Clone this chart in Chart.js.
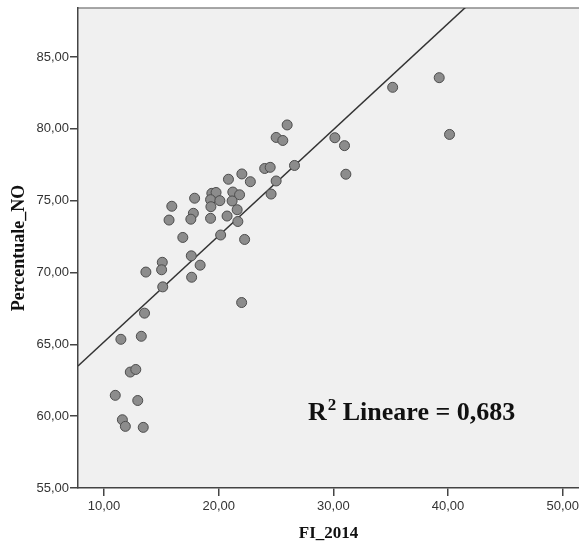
<!DOCTYPE html>
<html>
<head>
<meta charset="utf-8">
<script src="https://cdn.jsdelivr.net/npm/chart.js@4"></script>
<style>
  html, body { margin: 0; padding: 0; background: #fff; }
  #wrap { width: 579px; height: 546px; }
</style>
</head>
<body>
<div id="wrap"><canvas id="scatter"></canvas></div>
<script>
// FI_2014 (x) vs Percentuale_NO (y)
const fiValues = [
  35.17, 39.23, 40.13, 25.97, 25.01, 25.59, 30.13, 30.97, 31.09, 26.61,
  24.01, 24.49, 25.01, 24.57, 22.02, 20.85, 22.76, 19.40, 19.77, 21.23,
  21.82, 19.29, 20.10, 21.17, 17.90, 15.91, 19.32, 21.61, 17.79, 17.57,
  15.67, 19.29, 20.73, 21.67, 16.87, 20.17, 22.26, 17.61, 15.08, 15.02,
  13.65, 18.38, 17.64, 15.12, 22.00, 13.53, 11.47, 13.25, 12.29, 12.77,
  10.98, 12.94, 11.60, 11.86, 13.42
];
const noValues = [
  82.89, 83.56, 79.61, 80.27, 79.40, 79.19, 79.38, 78.83, 76.84, 77.45,
  77.24, 77.32, 76.37, 75.46, 76.86, 76.49, 76.32, 75.51, 75.57, 75.60,
  75.41, 75.07, 75.00, 74.98, 75.17, 74.61, 74.58, 74.37, 74.12, 73.71,
  73.65, 73.77, 73.93, 73.55, 72.44, 72.61, 72.30, 71.16, 70.71, 70.19,
  70.03, 70.51, 69.67, 69.00, 67.91, 67.17, 65.35, 65.56, 63.07, 63.25,
  61.45, 61.09, 59.75, 59.29, 59.22
];

// fit line as drawn in the picture
const fitIntercept = 57.79;
const fitSlope = 0.7385;
const rSquared = "0,683";

const xRange = [7.73, 51.42];
const yRange = [55, 88.41];
const xTicks = [10, 20, 30, 40, 50];
const yTicks = [55, 60, 65, 70, 75, 80, 85];

const points = fiValues.map((x, i) => ({ x, y: noValues[i] }));
const fitLine = xRange.map(x => ({ x, y: fitIntercept + fitSlope * x }));

const fmt = v => v.toFixed(2).replace(".", ",");

const plotFrame = {
  id: "plotFrame",
  beforeDraw(chart) {
    const { ctx, chartArea: a } = chart;
    ctx.save();
    ctx.fillStyle = "#f0f0f0";
    ctx.fillRect(a.left, a.top, a.right - a.left, a.bottom - a.top);
    ctx.strokeStyle = "#8a8a8a";
    ctx.lineWidth = 1.5;
    ctx.beginPath();
    ctx.moveTo(a.left, a.top);
    ctx.lineTo(a.right, a.top);
    ctx.stroke();
    ctx.restore();
  },
  afterDraw(chart) {
    const { ctx, chartArea: a } = chart;
    ctx.save();
    ctx.fillStyle = "#111";
    ctx.textBaseline = "alphabetic";
    let x = a.left + 230;
    const y = a.top + 412;
    ctx.font = "bold 26px 'Liberation Serif', 'DejaVu Serif', serif";
    ctx.fillText("R", x, y);
    x += ctx.measureText("R").width + 1;
    ctx.font = "bold 17px 'Liberation Serif', 'DejaVu Serif', serif";
    ctx.fillText("2", x, y - 10);
    x += ctx.measureText("2").width;
    ctx.font = "bold 26px 'Liberation Serif', 'DejaVu Serif', serif";
    ctx.fillText(" Lineare = " + rSquared, x, y);
    ctx.restore();
  }
};

new Chart(document.getElementById("scatter"), {
  type: "scatter",
  data: {
    datasets: [
      {
        data: points,
        pointRadius: 5,
        pointHoverRadius: 5,
        pointBackgroundColor: "#8c8c8c",
        pointBorderColor: "#4d4d4d",
        pointBorderWidth: 1
      },
      {
        type: "line",
        data: fitLine,
        borderColor: "#333",
        borderWidth: 1.5,
        pointRadius: 0,
        fill: false
      }
    ]
  },
  options: {
    responsive: true,
    maintainAspectRatio: false,
    animation: false,
    events: [],
    layout: { autoPadding: false, padding: { top: 8, right: 0, left: 0, bottom: 0 } },
    plugins: { legend: { display: false }, tooltip: { enabled: false } },
    scales: {
      x: {
        type: "linear",
        min: xRange[0],
        max: xRange[1],
        afterBuildTicks: s => { s.ticks = xTicks.map(value => ({ value })); },
        afterFit: s => { s.height = 58; s.paddingLeft = 0; s.paddingRight = 0; },
        grid: { display: true, drawOnChartArea: false, drawTicks: true, tickLength: 8, color: "#444", lineWidth: 1.5 },
        border: { display: true, color: "#444", width: 1.5 },
        ticks: {
          callback: fmt,
          padding: 3,
          maxRotation: 0,
          color: "#333",
          font: { family: "'Liberation Sans', Arial, sans-serif", size: 13 }
        },
        title: {
          display: true,
          text: "FI_2014",
          color: "#111",
          padding: { top: 0, bottom: 2 },
          font: { family: "'Liberation Serif', 'DejaVu Serif', serif", size: 17, weight: "bold" }
        }
      },
      y: {
        type: "linear",
        min: yRange[0],
        max: yRange[1],
        afterBuildTicks: s => { s.ticks = yTicks.map(value => ({ value })); },
        afterFit: s => { s.width = 78; s.paddingTop = 0; s.paddingBottom = 0; },
        grid: { display: true, drawOnChartArea: false, drawTicks: true, tickLength: 8, color: "#444", lineWidth: 1.5 },
        border: { display: true, color: "#444", width: 1.5 },
        ticks: {
          callback: fmt,
          padding: 1,
          color: "#333",
          font: { family: "'Liberation Sans', Arial, sans-serif", size: 13 }
        },
        title: {
          display: true,
          text: "Percentuale_NO",
          color: "#111",
          padding: { top: 9, bottom: 0 },
          font: { family: "'Liberation Serif', 'DejaVu Serif', serif", size: 18, weight: "bold" }
        }
      }
    }
  },
  plugins: [plotFrame]
});
</script>
</body>
</html>
